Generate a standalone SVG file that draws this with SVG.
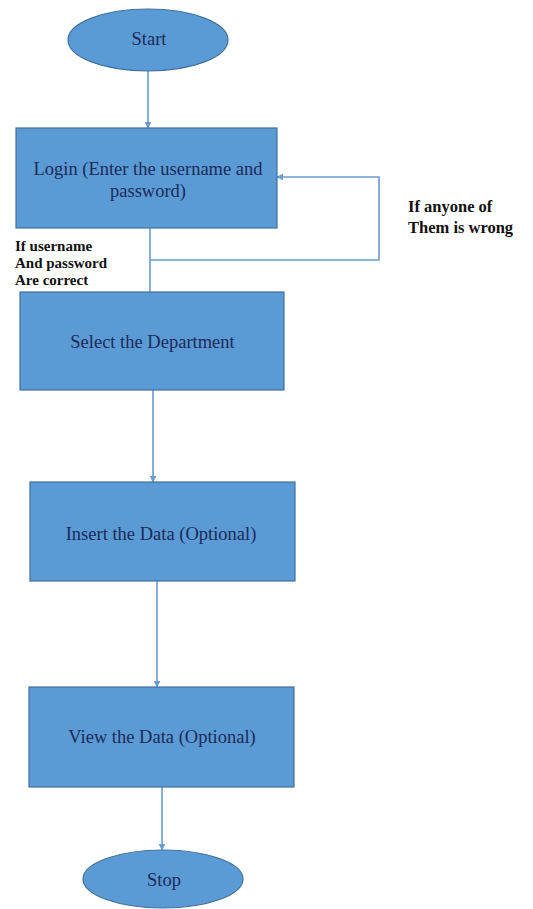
<svg xmlns="http://www.w3.org/2000/svg" width="533" height="909" viewBox="0 0 533 909">
<style>
.shape{fill:#5b9bd5;stroke:#41719c;stroke-width:1.2}
.t{font-family:"Liberation Serif","Times New Roman",serif;font-size:18.5px;fill:#1c2a57;text-anchor:middle}
.lbl{font-family:"Liberation Serif","Times New Roman",serif;font-weight:bold;fill:#111111}
.c{fill:none;stroke:#6a9bd1;stroke-width:1.6}
</style>
<defs>
<marker id="ah" viewBox="0 0 10 10" refX="9" refY="5" markerWidth="7" markerHeight="7" markerUnits="userSpaceOnUse" orient="auto">
<path d="M0,0 L10,5 L0,10 z" fill="#6a9bd1"/>
</marker>
</defs>
<rect width="533" height="909" fill="#ffffff"/>
<g id="connectors">
<line class="c" x1="148" y1="71" x2="148" y2="128" marker-end="url(#ah)"/>
<line class="c" x1="150" y1="228" x2="150" y2="292"/>
<polyline class="c" points="150,260 379,260 379,177 277,177" marker-end="url(#ah)"/>
<line class="c" x1="153" y1="390" x2="153" y2="482" marker-end="url(#ah)"/>
<line class="c" x1="157" y1="581" x2="157" y2="687" marker-end="url(#ah)"/>
<line class="c" x1="162" y1="787" x2="162" y2="850" marker-end="url(#ah)"/>
</g>
<g id="start">
<ellipse class="shape" cx="148" cy="40" rx="80" ry="31"/>
<text class="t" x="149" y="45">Start</text>
</g>
<g id="login">
<rect class="shape" x="16" y="128" width="261" height="100"/>
<text class="t" x="148" y="175">Login (Enter the username and</text>
<text class="t" x="148" y="197">password)</text>
</g>
<g id="select">
<rect class="shape" x="20" y="292" width="264" height="98"/>
<text class="t" x="152.5" y="348">Select the Department</text>
</g>
<g id="insert">
<rect class="shape" x="30" y="482" width="265" height="99"/>
<text class="t" x="161" y="540">Insert the Data (Optional)</text>
</g>
<g id="view">
<rect class="shape" x="29" y="687" width="265" height="100"/>
<text class="t" x="162" y="743">View the Data (Optional)</text>
</g>
<g id="stop">
<ellipse class="shape" cx="163" cy="879" rx="80" ry="29"/>
<text class="t" x="164" y="886">Stop</text>
</g>
<g id="label-wrong">
<text class="lbl" x="408" y="212" font-size="16.5">If anyone of</text>
<text class="lbl" x="408" y="233" font-size="16.5">Them is wrong</text>
</g>
<g id="label-correct">
<text class="lbl" x="15" y="251" font-size="15">If username</text>
<text class="lbl" x="15" y="268" font-size="15">And password</text>
<text class="lbl" x="15" y="285" font-size="15">Are correct</text>
</g>
</svg>
